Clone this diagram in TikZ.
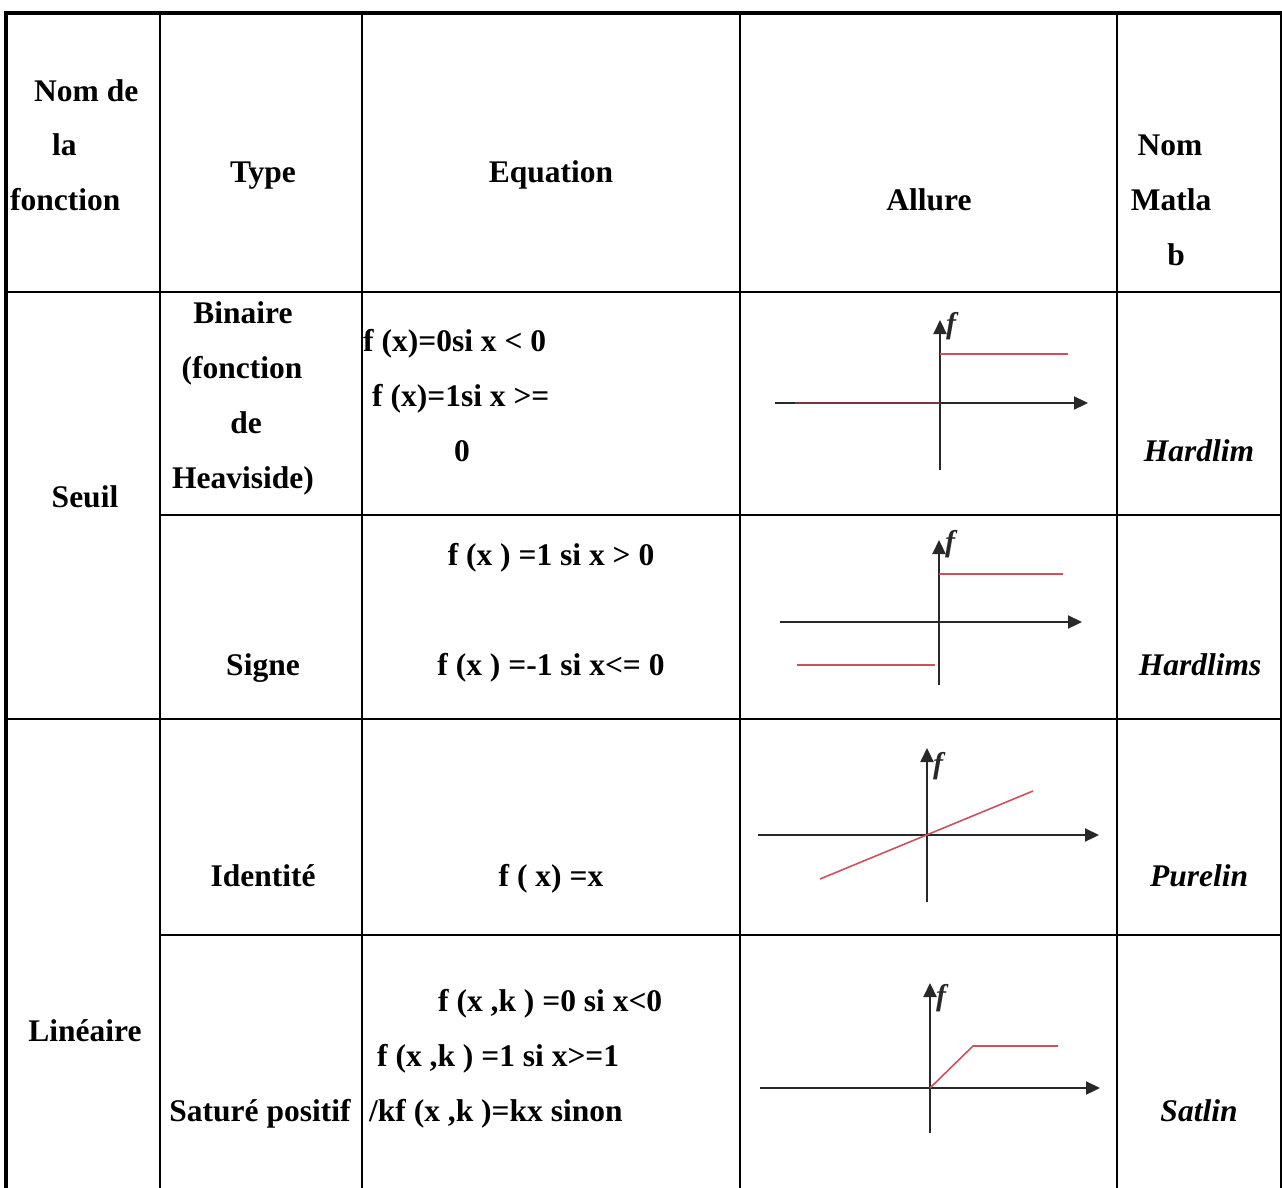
\documentclass[tikz,border=0pt]{standalone}
\usepackage{fontspec}
\setmainfont{Liberation Serif}
\usetikzlibrary{arrows.meta}
\definecolor{curve}{RGB}{205,80,92}
\definecolor{curveon}{RGB}{120,55,60}
\definecolor{axisgray}{RGB}{40,40,40}
\begin{document}
\begin{tikzpicture}[x=1pt,y=-1pt,
  cell/.style={font=\fontsize{31.5}{38}\selectfont\bfseries,inner sep=0pt,anchor=base},
  celli/.style={cell,font=\fontsize{31.5}{38}\selectfont\bfseries\itshape},
  rule/.style={line width=2pt,black},
  outer/.style={line width=4pt,black},
  axis/.style={line width=2.2pt,axisgray,-{Triangle[length=14pt,width=13pt]}},
  fn/.style={line width=1.6pt,curve},
  fnon/.style={line width=2.2pt,curveon},
  flabel/.style={font=\fontsize{30}{30}\selectfont\bfseries\itshape,inner sep=0pt,anchor=south west,text=axisgray}]
\useasboundingbox (0,0) rectangle (1282,1188);

% ---- table frame ----
\draw[outer] (6,11) -- (6,1188);
\draw[outer] (4,13) -- (1281,13);
\draw[line width=1.6pt] (1281,11) -- (1281,1188);
\foreach \cx in {160,362,740,1117} \draw[rule] (\cx,13) -- (\cx,1188);
\draw[rule] (4,292) -- (1281,292);
\draw[rule] (160,515) -- (1281,515);
\draw[rule] (4,719) -- (1281,719);
\draw[rule] (160,935) -- (1281,935);

% ---- header ----
\node[cell,anchor=base west] (h1a) at (34,102) {Nom de};
\node[cell,anchor=base west] (h1b) at (52,156) {la};
\node[cell,anchor=base west] (h1c) at (10,210) {fonction};
\node[cell] (h2) at (263,182) {Type};
\node[cell] (h3) at (551,182) {Equation};
\node[cell] (h4) at (929,210) {Allure};
\node[cell] (h5a) at (1170,155) {Nom};
\node[cell] (h5b) at (1171,210) {Matla};
\node[cell] (h5c) at (1176,265) {b};

% ---- Seuil ----
\node[cell] (seuil) at (85,507) {Seuil};
\node[cell] (bin1) at (243,323) {Binaire};
\node[cell] (bin2) at (242,378) {(fonction};
\node[cell] (bin3) at (246,433) {de};
\node[cell] (bin4) at (243,488) {Heaviside)};
\node[cell,anchor=base west] (eq1a) at (363,351) {f (x)=0si x < 0};
\node[cell,anchor=base west] (eq1b) at (372,406) {f (x)=1si x >=};
\node[cell] (eq1c) at (462,461) {0};
\node[celli] (m1) at (1199,461) {Hardlim};

\node[cell] (eq2a) at (551,565) {f (x ) =1 si x > 0};
\node[cell] (signe) at (263,675) {Signe};
\node[cell] (eq2b) at (551,675) {f (x ) =-1 si x<= 0};
\node[celli] (m2) at (1200,675) {Hardlims};

% ---- Linéaire ----
\node[cell] (lin) at (85,1041) {Linéaire};
\node[cell] (ident) at (263,886) {Identité};
\node[cell] (eq3) at (551,886) {f ( x) =x};
\node[celli] (m3) at (1199,886) {Purelin};

\node[cell] (sat) at (260,1121) {Saturé positif};
\node[cell,anchor=base west] (eq4a) at (438,1011) {f (x ,k ) =0 si x<0};
\node[cell,anchor=base west] (eq4b) at (377,1066) {f (x ,k ) =1 si x>=1};
\node[cell,anchor=base west] (eq4c) at (369,1121) {/kf (x ,k )=kx sinon};
\node[celli] (m4) at (1199,1121) {Satlin};

% ---- plot: binary step ----
\coordinate (a1b) at (940,470);
\coordinate (a1t) at (940,320);
\coordinate (a1l) at (775,403);
\coordinate (a1r) at (1088,403);
\draw[axis] (a1b) -- (a1t);
\draw[axis] (a1l) -- (a1r);
\draw[fn] (940,354) -- (1068,354);
\draw[fnon] (795,403) -- (940,403);
\node[flabel] (f1) at (946,340) {f};

% ---- plot: sign ----
\coordinate (a2b) at (939,685);
\coordinate (a2t) at (939,540);
\coordinate (a2l) at (780,622);
\coordinate (a2r) at (1082,622);
\draw[axis] (a2b) -- (a2t);
\draw[axis] (a2l) -- (a2r);
\draw[fn] (939,574) -- (1063,574);
\draw[fn] (797,665) -- (935,665);
\node[flabel] (f2) at (945,558) {f};

% ---- plot: identity ----
\coordinate (a3b) at (927,902);
\coordinate (a3t) at (927,748);
\coordinate (a3l) at (758,835);
\coordinate (a3r) at (1099,835);
\draw[axis] (a3b) -- (a3t);
\draw[axis] (a3l) -- (a3r);
\draw[fn] (820,879) -- (1033,791);
\node[flabel] (f3) at (933,780) {f};

% ---- plot: saturating linear ----
\coordinate (a4b) at (930,1133);
\coordinate (a4t) at (930,983);
\coordinate (a4l) at (760,1088);
\coordinate (a4r) at (1100,1088);
\draw[axis] (a4b) -- (a4t);
\draw[axis] (a4l) -- (a4r);
\draw[fn] (930,1088) -- (973,1046) -- (1058,1046);
\node[flabel] (f4) at (936,1012) {f};
\end{tikzpicture}
\end{document}
